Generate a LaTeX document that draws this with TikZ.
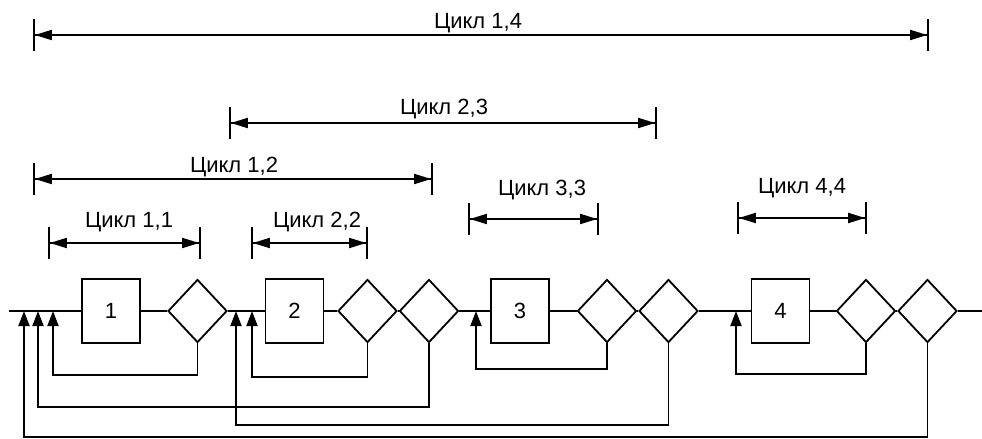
\documentclass[tikz,border=0pt]{standalone}
\usepackage{fontspec}
\setmainfont{Liberation Sans}
\usetikzlibrary{arrows.meta,shapes.geometric,positioning}

\tikzset{
  blk/.style={draw,rectangle,minimum width=29pt,minimum height=32pt,inner sep=0pt,font=\fontsize{11}{13}\selectfont},
  cond/.style={draw,diamond,aspect=1,minimum width=29.5pt,minimum height=31.5pt,inner sep=0pt},
  fb/.style={-{Triangle[length=7.5pt,width=5.5pt]}},
  dim/.style={{Bar[width=16pt]Triangle[length=8.5pt,width=5pt]}-{Triangle[length=8.5pt,width=5pt]Bar[width=16pt]}},
  lbl/.style={anchor=base,inner sep=0pt,font=\fontsize{11}{13}\selectfont}
}

\begin{document}
\begin{tikzpicture}[x=0.5pt,y=-0.5pt,line width=0.9pt]
  \useasboundingbox (0,0) rectangle (982,439);
  % blocks and conditions
  \node[blk]  (b1) at (111,311) {1};
  \node[cond] (d1) at (197.5,311) {};
  \node[blk]  (b2) at (294.5,311) {2};
  \node[cond] (d2) at (367.5,311) {};
  \node[cond] (d3) at (429,311) {};
  \node[blk]  (b3) at (520,311) {3};
  \node[cond] (d4) at (607,311) {};
  \node[cond] (d5) at (668.5,311) {};
  \node[blk]  (b4) at (780.5,311) {4};
  \node[cond] (d6) at (866,311) {};
  \node[cond] (d7) at (927.5,311) {};
  \coordinate (in)  at (9,311);
  \coordinate (out) at (982,311);
  \draw (in) -- (b1) -- (d1) -- (b2) -- (d2) -- (d3) -- (b3) -- (d4) -- (d5) -- (b4) -- (d6) -- (d7) -- (out);
  % entry points of the loops
  \coordinate (e14) at (24,311);
  \coordinate (e12) at (38,311);
  \coordinate (e11) at (53,311);
  \coordinate (e23) at (236,311);
  \coordinate (e22) at (252,311);
  \coordinate (e33) at (476,311);
  \coordinate (e44) at (736,311);
  % feedback
  \draw[fb] (d1.south) |- (e11 |- 0,375) -- (e11);
  \draw[fb] (d2.south) |- (e22 |- 0,377) -- (e22);
  \draw[fb] (d3.south) |- (e12 |- 0,407) -- (e12);
  \draw[fb] (d4.south) |- (e33 |- 0,369) -- (e33);
  \draw[fb] (d5.south) |- (e23 |- 0,425) -- (e23);
  \draw[fb] (d6.south) |- (e44 |- 0,374) -- (e44);
  \draw[fb] (d7.south) |- (e14 |- 0,437) -- (e14);
  % cycle spans
  \draw[dim] (33,35) -- (929,35);
  \node[lbl] (c14) at (478,28) {Цикл 1,4};
  \draw[dim] (229,123) -- (657,123);
  \node[lbl] (c23) at (444,114) {Цикл 2,3};
  \draw[dim] (33,179) -- (433,179);
  \node[lbl] (c12) at (234,172) {Цикл 1,2};
  \draw[dim] (48,243) -- (201,243);
  \node[lbl] (c11) at (129,227) {Цикл 1,1};
  \draw[dim] (251,243) -- (368,243);
  \node[lbl] (c22) at (317,227) {Цикл 2,2};
  \draw[dim] (468,219) -- (599,219);
  \node[lbl] (c33) at (542,195) {Цикл 3,3};
  \draw[dim] (737,218) -- (867,218);
  \node[lbl] (c44) at (802,193) {Цикл 4,4};
\end{tikzpicture}
\end{document}
